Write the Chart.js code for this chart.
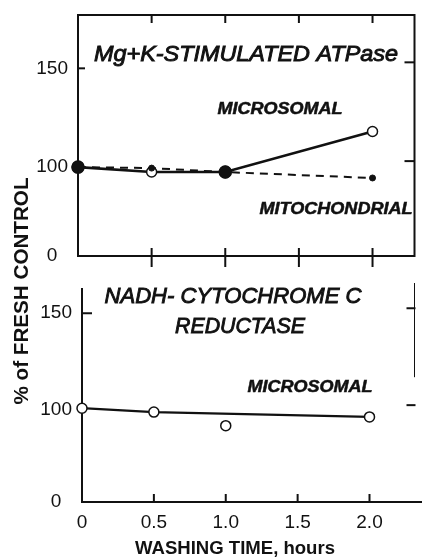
<!DOCTYPE html>
<html>
<head>
<meta charset="utf-8">
<script src="https://cdn.jsdelivr.net/npm/chart.js@4.4.1/dist/chart.umd.min.js"></script>
<style>
  html, body { margin: 0; padding: 0; background: #fff; }
  #wrap { position: relative; width: 422px; height: 559px; }
  #wrap canvas { position: absolute; left: 0; top: 0; }
</style>
</head>
<body>
<div id="wrap">
  <canvas id="atpaseChart" width="422" height="559"></canvas>
  <canvas id="nadhChart" width="422" height="559"></canvas>
</div>
<script>
// washing time, hours
const washTimes = [0, 0.5, 1.0, 2.0];
// Mg+K-stimulated ATPase, % of fresh control
const atpaseMicrosomal = [100, 97.5, 97.5, 118];
const atpaseMitochondrial = [100, 99.5, 97.5, 94.5];
// NADH-cytochrome c reductase (microsomal): points and the drawn line
const nadhMicrosomal = [101, 99, 92, 96.5];
const nadhLineTimes = [0, 0.5, 2.0];
const nadhLineValues = [101, 99, 96.5];

const xTicks = [0, 0.5, 1.0, 1.5, 2.0];
const xTickLabels = ['0', '0.5', '1.0', '1.5', '2.0'];
// broken y axis: the "0" label sits at the bottom of each panel
const atpaseYTicks = [55, 100, 150];
const nadhYTicks = [52.6, 100, 150];
const yTickLabels = ['0', '100', '150'];

const INK = '#111';
const FONT = '"Liberation Sans", Arial, sans-serif';

const toPoints = (xs, ys) => xs.map((x, i) => ({ x: x, y: ys[i] }));

// draw text squeezed/stretched to a given width (lettering in the figure is condensed)
function fitText(ctx, text, x, y, width, font, rotate, stroke) {
    ctx.save();
    ctx.font = font;
    const w = ctx.measureText(text).width;
    ctx.translate(x, y);
    if (rotate) ctx.rotate(-Math.PI / 2);
    ctx.scale(width / w, 1);
    ctx.textAlign = 'center';
    ctx.textBaseline = 'middle';
    ctx.fillStyle = INK;
    ctx.fillText(text, 0, 0);
    if (stroke) {
        ctx.strokeStyle = INK;
        ctx.lineWidth = stroke;
        ctx.strokeText(text, 0, 0);
    }
    ctx.restore();
}

function line(ctx, x1, y1, x2, y2) {
    ctx.beginPath();
    ctx.moveTo(x1, y1);
    ctx.lineTo(x2, y2);
    ctx.stroke();
}

const atpaseFrame = {
    id: 'atpaseFrame',
    beforeDatasetsDraw(chart) {
        const ctx = chart.ctx;
        const { left, right, top, bottom } = chart.chartArea;
        const xs = chart.scales.x, ys = chart.scales.y;
        ctx.save();
        ctx.strokeStyle = INK;
        ctx.lineWidth = 2;
        ctx.strokeRect(left, top, right - left, bottom - top);
        xTicks.slice(1).forEach(v => {
            const px = xs.getPixelForValue(v);
            line(ctx, px, bottom - 8, px, bottom + 11);
            line(ctx, px, top, px, top + 8);
        });
        line(ctx, left, ys.getPixelForValue(150), left + 7, ys.getPixelForValue(150));
        [150, 100].forEach(v => {
            const py = ys.getPixelForValue(v) - 6;
            line(ctx, right - 10, py, right, py);
        });
        ctx.restore();
    },
    afterDraw(chart) {
        const ctx = chart.ctx;
        fitText(ctx, 'Mg+K-STIMULATED ATPase', 246, 55, 304, 'italic 22px ' + FONT, false, 0.9);
        fitText(ctx, 'MICROSOMAL', 280, 110, 125, 'italic bold 16px ' + FONT, false, 0.5);
        fitText(ctx, 'MITOCHONDRIAL', 336, 210, 153, 'italic bold 16px ' + FONT, false, 0.5);
        fitText(ctx, '% of FRESH CONTROL', 22, 291, 227, 'bold 20px ' + FONT, true);
    }
};

const nadhFrame = {
    id: 'nadhFrame',
    beforeDatasetsDraw(chart) {
        const ctx = chart.ctx;
        const { left, right, top, bottom } = chart.chartArea;
        const xs = chart.scales.x, ys = chart.scales.y;
        ctx.save();
        ctx.strokeStyle = INK;
        ctx.lineWidth = 2;
        line(ctx, left, top - 2, left, bottom + 1);
        line(ctx, left, bottom, chart.width, bottom);
        xTicks.slice(1).forEach(v => {
            const px = xs.getPixelForValue(v);
            line(ctx, px, bottom - 8, px, bottom);
        });
        line(ctx, left, ys.getPixelForValue(150), left + 10, ys.getPixelForValue(150));
        [150, 100].forEach(v => {
            const py = ys.getPixelForValue(v) - 5;
            line(ctx, right - 9, py, right, py);
        });
        ctx.lineWidth = 1;
        line(ctx, right - 1, top - 7, right - 1, ys.getPixelForValue(117));
        ctx.restore();
    },
    afterDraw(chart) {
        const ctx = chart.ctx;
        fitText(ctx, 'NADH- CYTOCHROME C', 233, 297, 257, 'italic 22px ' + FONT, false, 0.9);
        fitText(ctx, 'REDUCTASE', 240, 327, 130, 'italic 22px ' + FONT, false, 0.9);
        fitText(ctx, 'MICROSOMAL', 310, 388, 125, 'italic bold 16px ' + FONT, false, 0.5);
        fitText(ctx, 'WASHING TIME, hours', 235, 549, 200, 'bold 18px ' + FONT);
    }
};

function yScale(min, max, tickValues) {
    return {
        type: 'linear',
        min: min,
        max: max,
        grid: { display: false, drawTicks: false },
        border: { display: false },
        ticks: {
            padding: 10,
            crossAlign: 'center',
            color: INK,
            font: { family: FONT, size: 19 },
            callback: (v, i) => yTickLabels[i]
        },
        afterBuildTicks: s => { s.ticks = tickValues.map(v => ({ value: v })); },
        afterFit: s => { s.width = 48; s.paddingTop = 0; s.paddingBottom = 0; }
    };
}

new Chart(document.getElementById('atpaseChart'), {
    type: 'line',
    data: {
        datasets: [{
            label: 'Mitochondrial',
            data: toPoints(washTimes, atpaseMitochondrial),
            borderColor: INK,
            borderWidth: 2,
            borderDash: [8, 6],
            pointRadius: [6, 3, 6, 3],
            pointBackgroundColor: INK,
            pointBorderColor: INK,
            pointBorderWidth: 1,
            clip: false
        }, {
            label: 'Microsomal',
            data: toPoints(washTimes, atpaseMicrosomal),
            borderColor: INK,
            borderWidth: 2.6,
            pointRadius: [6, 5, 6, 5],
            pointBackgroundColor: [INK, '#fff', INK, '#fff'],
            pointBorderColor: INK,
            pointBorderWidth: 1.5,
            clip: false
        }]
    },
    options: {
        responsive: false,
        animation: false,
        layout: { padding: { left: 30, top: 15, right: 7, bottom: 0 } },
        plugins: { legend: { display: false }, tooltip: { enabled: false } },
        scales: {
            x: {
                type: 'linear',
                min: 0,
                max: 2.285,
                ticks: { display: false },
                grid: { display: false, drawTicks: false },
                border: { display: false },
                afterBuildTicks: s => { s.ticks = xTicks.map(v => ({ value: v })); },
                afterFit: s => { s.height = 559 - 256; s.paddingLeft = 0; s.paddingRight = 0; }
            },
            y: yScale(55, 177, atpaseYTicks)
        }
    },
    plugins: [atpaseFrame]
});

new Chart(document.getElementById('nadhChart'), {
    type: 'line',
    data: {
        datasets: [{
            label: 'Microsomal',
            data: toPoints(washTimes, nadhMicrosomal),
            showLine: false,
            pointRadius: 5,
            pointBackgroundColor: '#fff',
            pointBorderColor: INK,
            pointBorderWidth: 1.5,
            clip: false
        }, {
            label: 'Microsomal line',
            data: toPoints(nadhLineTimes, nadhLineValues),
            borderColor: INK,
            borderWidth: 2.2,
            pointRadius: 0,
            clip: false
        }]
    },
    options: {
        responsive: false,
        animation: false,
        layout: { padding: { left: 34, top: 290, right: 0, bottom: 0 } },
        plugins: { legend: { display: false }, tooltip: { enabled: false } },
        scales: {
            x: {
                type: 'linear',
                min: 0,
                max: 2.32,
                grid: { display: false, drawTicks: false },
                border: { display: false },
                ticks: {
                    padding: 9,
                    color: INK,
                    font: { family: FONT, size: 19 },
                    callback: (v, i) => xTickLabels[i]
                },
                afterBuildTicks: s => { s.ticks = xTicks.map(v => ({ value: v })); },
                afterFit: s => { s.height = 559 - 502; s.paddingLeft = 0; s.paddingRight = 0; }
            },
            y: yScale(52.6, 162, nadhYTicks)
        }
    },
    plugins: [nadhFrame]
});
</script>
</body>
</html>
